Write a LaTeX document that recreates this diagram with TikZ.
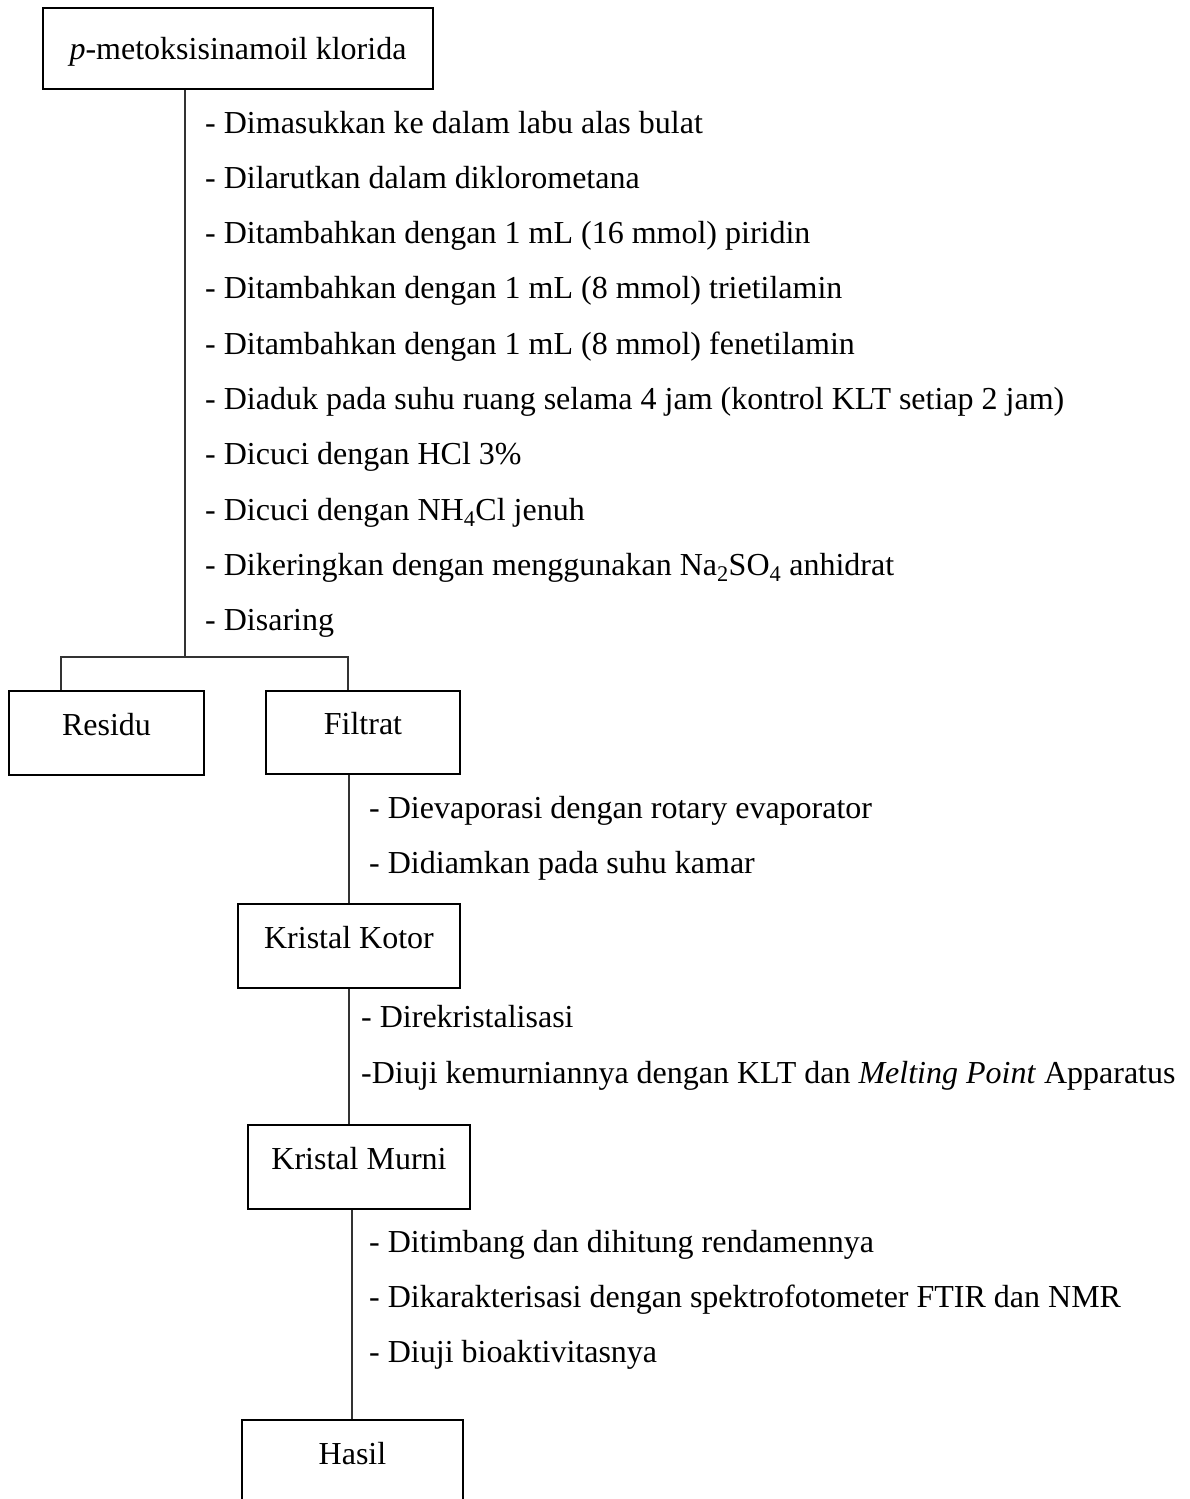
\documentclass[tikz,border=0pt]{standalone}
\usepackage{fontspec}
\setmainfont{Liberation Serif}
\begin{document}
\begin{tikzpicture}[x=1pt,y=-1pt,
  font=\fontsize{32pt}{38pt}\selectfont,
  procbox/.style={draw=black, line width=2.6pt, inner sep=0pt, text height=22pt, text depth=18pt},
  conn/.style={draw=black!80, line width=1.5pt},
  item/.style={anchor=base west, inner sep=0pt}]
\clip (0,0) rectangle (1190,1499);
% boxes
\node[procbox, minimum width=390pt, minimum height=81pt, text height=30pt, text depth=8pt] (top) at (238,48.5) {\textit{p}-metoksisinamoil klorida};
\node[procbox, minimum width=195pt, minimum height=84pt] (res) at (106.5,733) {Residu};
\node[procbox, minimum width=194pt, minimum height=83pt] (fil) at (363,732.5) {Filtrat};
\node[procbox, minimum width=222pt, minimum height=84pt] (kk) at (349,946) {Kristal Kotor};
\node[procbox, minimum width=222pt, minimum height=84pt] (km) at (359,1167) {Kristal Murni};
\node[procbox, minimum width=221pt, minimum height=84pt] (hasil) at (352.5,1462) {Hasil};
% step texts
\node[item] (a1) at (205,133) {- Dimasukkan ke dalam labu alas bulat};
\node[item] (a2) at (205,188.3) {- Dilarutkan dalam diklorometana};
\node[item] (a3) at (205,243.6) {- Ditambahkan dengan 1 mL (16 mmol) piridin};
\node[item] (a4) at (205,298.9) {- Ditambahkan dengan 1 mL (8 mmol) trietilamin};
\node[item] (a5) at (205,354.2) {- Ditambahkan dengan 1 mL (8 mmol) fenetilamin};
\node[item] (a6) at (205,409.5) {- Diaduk pada suhu ruang selama 4 jam (kontrol KLT setiap 2 jam)};
\node[item] (a7) at (205,464.8) {- Dicuci dengan HCl 3\%};
\node[item] (a8) at (205,520.1) {- Dicuci dengan NH\textsubscript{4}Cl jenuh};
\node[item] (a9) at (205,575.4) {- Dikeringkan dengan menggunakan Na\textsubscript{2}SO\textsubscript{4} anhidrat};
\node[item] (a10) at (205,630.7) {- Disaring};
\node[item] (b1) at (369,818) {- Dievaporasi dengan rotary evaporator};
\node[item] (b2) at (369,873) {- Didiamkan pada suhu kamar};
\node[item] (c1) at (361,1027) {- Direkristalisasi};
\node[item] (c2) at (361,1083) {-Diuji kemurniannya dengan KLT dan \textit{Melting Point} Apparatus};
\node[item] (d1) at (369,1252) {- Ditimbang dan dihitung rendamennya};
\node[item] (d2) at (369,1307) {- Dikarakterisasi dengan spektrofotometer FTIR dan NMR};
\node[item] (d3) at (369,1362) {- Diuji bioaktivitasnya};
% connectors
\coordinate (j1) at (185,657);
\coordinate (jl) at (61,657);
\coordinate (jr) at (348,657);
\coordinate (x2) at (349,0);
\coordinate (x3) at (352,0);
\draw[conn] (top.south -| j1) -- (j1);
\draw[conn] (jl |- res.north) -- (jl) -- (jr) -- (jr |- fil.north);
\draw[conn] (fil.south -| x2) -- (kk.north -| x2);
\draw[conn] (kk.south -| x2) -- (km.north -| x2);
\draw[conn] (km.south -| x3) -- (hasil.north -| x3);
\end{tikzpicture}
\end{document}
